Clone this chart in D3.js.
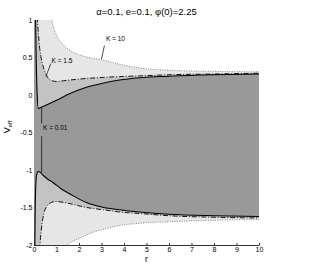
<!DOCTYPE html>
<html><head><meta charset="utf-8">
<script src="https://cdn.jsdelivr.net/npm/d3@7"></script>
<style>
body{margin:0;background:#fff;}
text{font-family:"Liberation Sans",Arial,Helvetica,sans-serif;}
</style></head>
<body><svg id="chart" width="327" height="267"></svg>
<script>
// ---- data ----
const titleText = "α=0.1, e=0.1, φ(0)=2.25";
const xTicks = [0,1,2,3,4,5,6,7,8,9,10];
const yTicks = [1,0.5,0,-0.5,-1,-1.5,-2];
const yTickLabels = ["1","0.5","0","-0.5","-1","-1.5","-2"];

// K = 0.01 (solid)
const rUp001 = [0, 0.04, 0.07, 0.1, 0.14, 0.19, 0.27, 0.5, 1.0, 1.6, 2.3, 3.1, 3.8, 4.7, 6, 8, 10];
const vUp001 = [3, 1.6, 1.0, 0.45, 0.02, -0.18, -0.17, -0.14, -0.07, 0.02, 0.1, 0.16, 0.2, 0.23, 0.25, 0.27, 0.28];
const rLo001 = [0, 0.03, 0.05, 0.08, 0.12, 0.19, 0.27, 0.4, 0.6, 0.86, 1.2, 1.6, 2.3, 3.1, 3.8, 4.7, 6, 8, 10];
const vLo001 = [-4, -2.3, -1.6, -1.2, -1.06, -1.02, -1.03, -1.07, -1.12, -1.17, -1.25, -1.32, -1.43, -1.5, -1.53, -1.56, -1.59, -1.61, -1.62];

// K = 1.5 (dash-dot)
const rUp15 = [0, 0.1, 0.15, 0.22, 0.31, 0.45, 0.6, 0.8, 1.0, 1.3, 1.6, 2.3, 3.1, 3.8, 4.7, 6, 8, 10];
const vUp15 = [10, 2, 1.1, 0.73, 0.51, 0.34, 0.24, 0.19, 0.18, 0.19, 0.2, 0.22, 0.235, 0.245, 0.255, 0.27, 0.28, 0.29];
const rLo15 = [0, 0.2, 0.27, 0.34, 0.44, 0.56, 0.79, 1.0, 1.45, 2.34, 3.08, 3.8, 4.7, 6, 8, 10];
const vLo15 = [-10, -3, -2.0, -1.76, -1.58, -1.49, -1.43, -1.42, -1.44, -1.5, -1.53, -1.56, -1.58, -1.61, -1.63, -1.64];

// K = 10 (dotted)
const rUp10 = [0, 0.7, 0.8, 1.0, 1.3, 1.75, 2.3, 3.0, 3.8, 4.7, 6, 8, 10];
const vUp10 = [5, 1.3, 1.0, 0.8, 0.67, 0.57, 0.51, 0.47, 0.41, 0.36, 0.33, 0.315, 0.31];
const rLo10 = [0, 1.3, 1.5, 2.04, 2.64, 3.23, 3.8, 4.7, 6, 8, 10];
const vLo10 = [-5, -2.3, -2.0, -1.91, -1.83, -1.78, -1.74, -1.71, -1.69, -1.67, -1.66];

// ---- layout ----
const svg = d3.select("#chart");
const L = 34, T = 20, W = 225, H = 225;
const x = d3.scaleLinear().domain([0,10]).range([L, L+W]);
const y = d3.scaleLinear().domain([-2,1]).range([T+H, T]);

svg.append("defs").append("clipPath").attr("id","clip")
  .append("rect").attr("x",L).attr("y",T).attr("width",W).attr("height",H);

// axes (drawn beneath fills)
const xAxis = svg.append("g").attr("transform",`translate(0,${T+H})`)
  .call(d3.axisBottom(x).tickValues(xTicks).tickSize(-2).tickSizeOuter(0).tickPadding(2).tickFormat(d=>String(d)));
const yAxis = svg.append("g").attr("transform",`translate(${L},0)`)
  .call(d3.axisLeft(y).tickValues(yTicks).tickSize(-2).tickSizeOuter(0).tickPadding(1.5).tickFormat((d,i)=>yTickLabels[i]));
[xAxis,yAxis].forEach(g=>{
  g.selectAll("path").attr("stroke","#000").attr("stroke-width",0.8);
  g.selectAll("line").attr("stroke","#000").attr("stroke-width",0.8);
  g.selectAll("text").attr("font-size","7px").attr("fill","#000").attr("font-family","'Liberation Sans',Arial,sans-serif");
});

const pts = (rs,vs)=>rs.map((r,i)=>[r,vs[i]]);
const line = d3.line().x(d=>x(d[0])).y(d=>y(d[1])).curve(d3.curveMonotoneX);

function regionPath(up, lo){
  const a = line(up);
  const b = line(lo.slice().reverse()).replace(/^M/,"L");
  return a + b + "Z";
}

const plot = svg.append("g").attr("clip-path","url(#clip)");
const sets = [
  {up:pts(rUp10,vUp10), lo:pts(rLo10,vLo10), fill:"#e6e6e6", stroke:"#6e6e6e", dash:"1,1.4", sw:0.8},
  {up:pts(rUp15,vUp15), lo:pts(rLo15,vLo15), fill:"#c3c3c3", stroke:"#000", dash:"5,1.8,1,1.8", sw:0.9},
  {up:pts(rUp001,vUp001), lo:pts(rLo001,vLo001), fill:"#999999", stroke:"#000", dash:null, sw:1.1}
];
sets.forEach(s=>{
  plot.append("path").attr("d",regionPath(s.up,s.lo)).attr("fill",s.fill).attr("stroke","none");
});
sets.forEach(s=>{
  [s.up,s.lo].forEach(p=>{
    plot.append("path").attr("d",line(p)).attr("fill","none").attr("stroke",s.stroke)
      .attr("stroke-width",s.sw).attr("stroke-dasharray",s.dash);
  });
});

// annotations
const ann = svg.append("g").attr("font-size","6.5px").attr("fill","#000");
ann.append("text").attr("x",x(3.2)).attr("y",y(0.72)).text("K = 10");
ann.append("line").attr("x1",x(3.13)).attr("y1",y(0.66)).attr("x2",x(3.0)).attr("y2",y(0.48)).attr("stroke","#000").attr("stroke-width",0.7);
ann.append("text").attr("x",x(0.78)).attr("y",y(0.43)).text("K = 1.5");
ann.append("line").attr("x1",x(0.75)).attr("y1",y(0.42)).attr("x2",x(0.53)).attr("y2",y(0.25)).attr("stroke","#000").attr("stroke-width",0.7);
ann.append("text").attr("x",x(0.4)).attr("y",y(-0.46)).text("K = 0.01");
ann.append("line").attr("x1",x(0.34)).attr("y1",y(-0.38)).attr("x2",x(0.34)).attr("y2",y(-0.16)).attr("stroke","#000").attr("stroke-width",0.7);
ann.append("line").attr("x1",x(0.34)).attr("y1",y(-0.55)).attr("x2",x(0.34)).attr("y2",y(-1.03)).attr("stroke","#000").attr("stroke-width",0.7);

// title & labels
svg.append("text").attr("x",L+W/2).attr("y",15).attr("text-anchor","middle").attr("font-size","9.5px").text(titleText);
svg.append("text").attr("x",L+W/2).attr("y",262).attr("text-anchor","middle").attr("font-size","8.5px").text("r");
const yl = svg.append("text").attr("transform",`translate(10,127) rotate(-90)`).attr("text-anchor","middle").attr("font-size","9px");
yl.append("tspan").text("V");
yl.append("tspan").attr("font-size","6px").attr("dy","2").text("eff");
</script></body></html>
